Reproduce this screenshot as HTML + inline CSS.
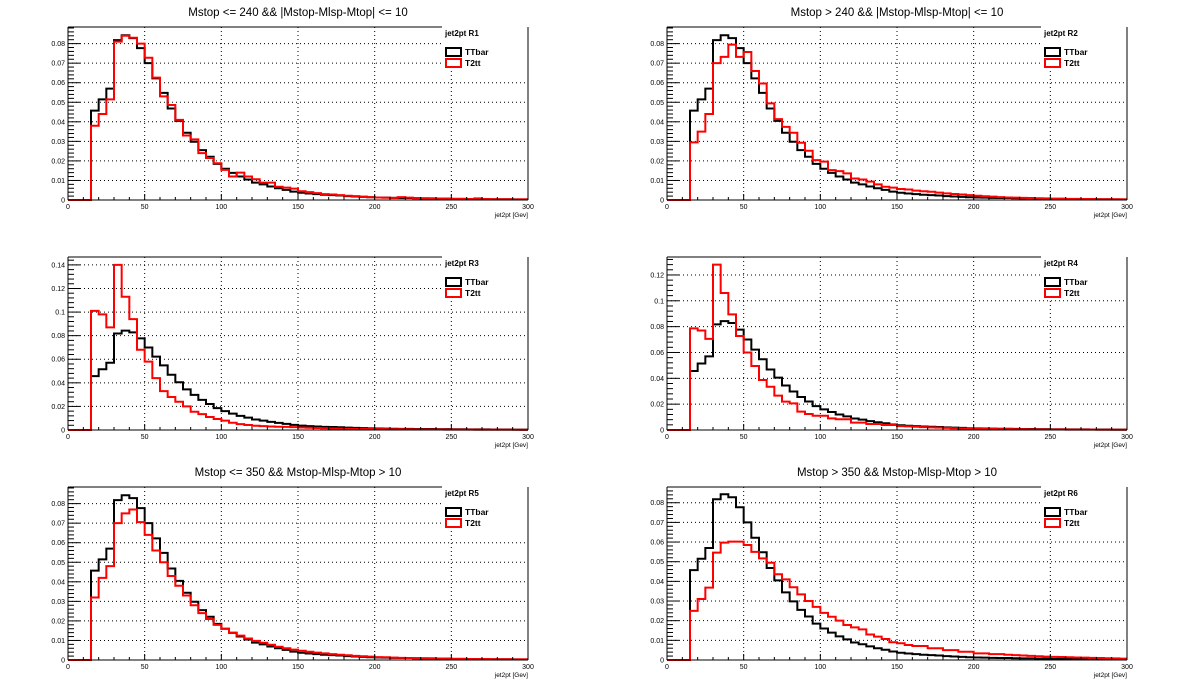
<!DOCTYPE html>
<html><head><meta charset="utf-8"><style>
html,body{margin:0;padding:0;background:#fff;}
svg{display:block;font-family:"Liberation Sans",sans-serif;}
</style></head><body>
<svg id="c" width="1198" height="689" viewBox="0 0 1198 689"></svg>
<script>
const xTickLabels = ["0","50","100","150","200","250","300"];
const padTitles = ["Mstop <= 240 && |Mstop-Mlsp-Mtop| <= 10","Mstop > 240 && |Mstop-Mlsp-Mtop| <= 10","","","Mstop <= 350 && Mstop-Mlsp-Mtop > 10","Mstop > 350 && Mstop-Mlsp-Mtop > 10"];
const padLabels = ["jet2pt  R1","jet2pt  R2","jet2pt  R3","jet2pt  R4","jet2pt  R5","jet2pt  R6"];
const yMax = [0.0885,0.0885,0.1467,0.1339,0.0885,0.088];
const yStep = [0.01,0.01,0.02,0.02,0.01,0.01];
const ttbar = [0,0,0,0.0457,0.0515,0.057,0.0818,0.0843,0.0828,0.0777,0.070,0.0622,0.0548,0.0468,0.0405,0.0344,0.0298,0.0255,0.0221,0.0185,0.0160,0.0139,0.0120,0.0105,0.0089,0.0080,0.0069,0.0060,0.0052,0.0043,0.0037,0.0033,0.0030,0.0027,0.0025,0.0023,0.0020,0.0018,0.0016,0.0014,0.0013,0.0012,0.0011,0.0010,0.0010,0.0009,0.0008,0.0008,0.0007,0.0007,0.0006,0.0006,0.0005,0.0005,0.0005,0.0004,0.0004,0.0004,0.0003,0.0003];
const t2ttR1 = [0,0,0,0.038,0.044,0.0515,0.081,0.084,0.083,0.080,0.0728,0.0626,0.053,0.0486,0.041,0.033,0.031,0.024,0.0215,0.0188,0.0154,0.012,0.014,0.012,0.0106,0.0089,0.0089,0.0068,0.0063,0.0058,0.0045,0.004,0.0035,0.003,0.0028,0.0025,0.0022,0.002,0.0017,0.0015,0.0013,0.0012,0.0011,0.0015,0.0012,0.001,0.0009,0.0008,0.0007,0.0007,0.0006,0.0006,0.0005,0.0008,0.0005,0.0004,0.0004,0.0004,0.0003,0.0003];
const t2ttR2 = [0,0,0,0.0295,0.035,0.044,0.070,0.0732,0.0795,0.0732,0.0757,0.066,0.0596,0.0494,0.0414,0.0374,0.0344,0.0293,0.0252,0.0204,0.0196,0.0153,0.0148,0.0136,0.011,0.0105,0.0094,0.008,0.0068,0.0063,0.0056,0.0054,0.0048,0.0045,0.0042,0.0038,0.0034,0.0031,0.0028,0.0025,0.0022,0.0019,0.0017,0.0015,0.0013,0.0012,0.0011,0.001,0.0009,0.0008,0.0007,0.0007,0.0006,0.0006,0.0005,0.0005,0.0004,0.0004,0.0004,0.0003];
const t2ttR3 = [0,0,0,0.101,0.098,0.087,0.140,0.113,0.094,0.068,0.058,0.044,0.033,0.028,0.024,0.020,0.0155,0.0135,0.011,0.0093,0.008,0.0062,0.005,0.0042,0.0036,0.0033,0.003,0.0028,0.0026,0.0024,0.0021,0.0019,0.0017,0.0015,0.0013,0.0012,0.0011,0.001,0.0009,0.0008,0.0007,0.0007,0.0006,0.0006,0.0005,0.0005,0.0004,0.0004,0.0004,0.0003,0.0003,0.0003,0.0003,0.0002,0.0002,0.0002,0.0002,0.0002,0.0002,0.0001];
const t2ttR4 = [0,0,0,0.0787,0.077,0.0705,0.128,0.106,0.0895,0.0728,0.060,0.0495,0.0387,0.0335,0.0266,0.022,0.0206,0.0142,0.0124,0.011,0.011,0.009,0.0083,0.0083,0.0057,0.0057,0.0046,0.0046,0.0039,0.0039,0.003,0.0028,0.0025,0.0022,0.002,0.0018,0.0016,0.0014,0.0012,0.0011,0.001,0.0009,0.0008,0.0007,0.0007,0.0006,0.0006,0.0005,0.0005,0.0004,0.0004,0.0004,0.0003,0.0003,0.0003,0.0003,0.0002,0.0002,0.0002,0.0002];
const t2ttR5 = [0,0,0,0.032,0.042,0.048,0.070,0.075,0.077,0.0705,0.064,0.056,0.050,0.043,0.038,0.033,0.028,0.024,0.021,0.018,0.016,0.014,0.0125,0.011,0.0098,0.0088,0.0078,0.0068,0.006,0.0053,0.0047,0.0042,0.0038,0.0034,0.003,0.0027,0.0024,0.0021,0.0019,0.0017,0.0015,0.0014,0.0012,0.0011,0.001,0.0009,0.0009,0.0008,0.0007,0.0007,0.0006,0.0006,0.0005,0.0005,0.0005,0.0004,0.0004,0.0004,0.0003,0.0003];
const t2ttR6 = [0,0,0,0.025,0.031,0.0368,0.0546,0.0597,0.0602,0.0602,0.0585,0.055,0.0517,0.0495,0.0436,0.041,0.037,0.0334,0.030,0.027,0.024,0.022,0.020,0.0178,0.0166,0.0156,0.013,0.0119,0.0107,0.009,0.0085,0.0076,0.0071,0.0071,0.006,0.006,0.005,0.005,0.0042,0.0042,0.0034,0.0034,0.003,0.003,0.0027,0.0025,0.0023,0.0021,0.0019,0.0017,0.0016,0.0015,0.0014,0.0013,0.0012,0.0011,0.001,0.0009,0.0008,0.0007];
const t2tt = [t2ttR1,t2ttR2,t2ttR3,t2ttR4,t2ttR5,t2ttR6];

const NS="http://www.w3.org/2000/svg";
const svg=document.getElementById('c');
function mk(tag,attrs,parent){const e=document.createElementNS(NS,tag);for(const k in attrs)e.setAttribute(k,attrs[k]);(parent||svg).appendChild(e);return e;}
const X_MIN=0,X_MAX=300,BIN=5;
for(let p=0;p<6;p++){
  const col=p%2,row=Math.floor(p/2);
  const x0=col?667:68, W=460, yb=200+230*row, H=173, yt=yb-H;
  const g=mk('g',{});
  
  
  const sx=v=>x0+(v-X_MIN)/(X_MAX-X_MIN)*W;
  const sy=v=>yb-v/yMax[p]*H;
  // grid
  for(let v=50;v<X_MAX;v+=50){const l=mk('line',{x1:sx(v),x2:sx(v),y1:yt,y2:yb,stroke:'#000','stroke-width':1,'stroke-dasharray':'1,3'},g);}
  for(let v=yStep[p];v<yMax[p];v+=yStep[p]){const l=mk('line',{x1:x0,x2:x0+W,y1:sy(v),y2:sy(v),stroke:'#000','stroke-width':1,'stroke-dasharray':'1,3'},g);}
  // histograms
  [[ttbar,'#000','ttbar-hist'],[t2tt[p],'#f00','t2tt-hist']].forEach(([arr,c,n])=>{
    let d='M'+sx(0)+','+sy(0);
    arr.forEach((v,i)=>{d+=' L'+sx(i*BIN)+','+sy(v)+' L'+sx((i+1)*BIN)+','+sy(v);});
    const pa=mk('path',{d:d,fill:'none',stroke:c,'stroke-width':2},g);
    
    
  });
  // legend
  const lg=mk('g',{},g);
  
  
  mk('rect',{x:x0+375,y:yt-1,width:85,height:44,fill:'#fff'},lg);
  const lt=mk('text',{x:x0+377,y:yt+9,'font-size':8,'font-weight':'bold'},lg);lt.textContent=padLabels[p];
  
  [['TTbar','#000',21],['T2tt','#f00',32]].forEach(([t,c,dy])=>{
    const r=mk('rect',{x:x0+378,y:yt+dy,width:15,height:8,fill:'none',stroke:c,'stroke-width':2},lg);
    
    const tx=mk('text',{x:x0+397,y:yt+dy+7,'font-size':8.5,'font-weight':'bold'},lg);tx.textContent=t;
    
  });
  // frame
  mk('line',{x1:x0,x2:x0+374,y1:yt,y2:yt,stroke:'#000','stroke-width':1},g);
  mk('line',{x1:x0,x2:x0,y1:yt,y2:yb,stroke:'#000','stroke-width':1},g);
  mk('line',{x1:x0+W,x2:x0+W,y1:yt,y2:yb,stroke:'#000','stroke-width':1},g);
  mk('line',{x1:x0,x2:x0+W,y1:yb,y2:yb,stroke:'#000','stroke-width':1},g);
  // x ticks
  for(let v=0;v<=X_MAX;v+=10){const maj=v%50===0;mk('line',{x1:sx(v),x2:sx(v),y1:yb,y2:yb-(maj?6:3),stroke:'#000','stroke-width':1},g);}
  xTickLabels.forEach((t,i)=>{const tx=mk('text',{x:sx(i*50),y:yb+9,'font-size':7,'text-anchor':'middle'},g);tx.textContent=t;});
  // y ticks
  const minor=yStep[p]/5;
  for(let k=0;k*minor<yMax[p];k++){const v=k*minor;const maj=k%5===0;mk('line',{x1:x0,x2:x0+(maj?12:6),y1:sy(v),y2:sy(v),stroke:'#000','stroke-width':1},g);
    if(maj){const tx=mk('text',{x:x0-3,y:sy(v)+2.5,'font-size':7,'text-anchor':'end'},g);tx.textContent=k===0?'0':(+v.toFixed(2)).toString();}}
  const xt=mk('text',{x:x0+W,y:yb+17,'font-size':6.5,'text-anchor':'end'},g);xt.textContent='jet2pt [Gev]';
  
  if(padTitles[p]){const tt=mk('text',{x:x0+W/2,y:yt-11,'font-size':11.5,'text-anchor':'middle'},g);tt.textContent=padTitles[p];}
}
</script>
</body></html>
